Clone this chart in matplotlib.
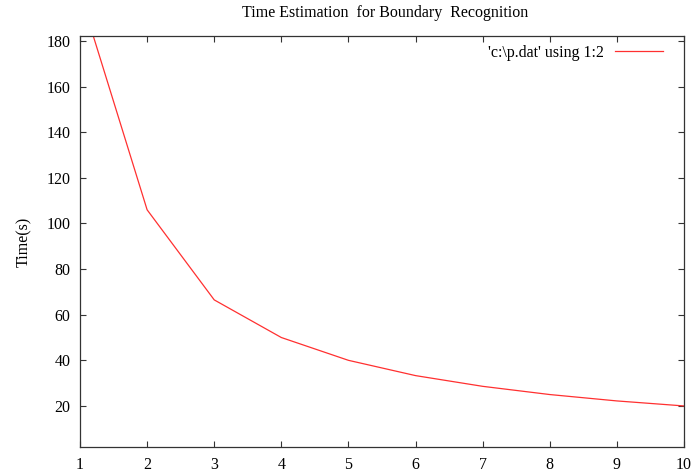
import matplotlib
matplotlib.use("Agg")
import matplotlib.pyplot as plt

# valori
x = [1, 2, 3, 4, 5, 6, 7, 8, 9, 10]
t = [201, 106, 66.5, 50, 40, 33.3, 28.6, 25, 22.2, 20]
xticks = [1, 2, 3, 4, 5, 6, 7, 8, 9, 10]
yticks = [20, 40, 60, 80, 100, 120, 140, 160, 180]

plt.rcParams['font.family'] = ['Liberation Serif', 'DejaVu Serif']
plt.rcParams['font.size'] = 11.5

fig = plt.figure(figsize=(7, 4.74), dpi=100)
ax = fig.add_axes([80 / 700, 27 / 474, 604 / 700, 411 / 474])

ax.plot(x, t, color='#ff3030', lw=0.9, label="'c:\\p.dat' using 1:2")

ax.set_xlim(1, 10)
ax.set_ylim(2, 182.2)
ax.set_xticks(xticks)
ax.set_yticks(yticks)
ax.tick_params(direction='in', top=True, right=True, length=4.5, width=0.8,
               color='#333333', labelsize=11.5, pad=7)
for s in ax.spines.values():
    s.set_color('#333333')
    s.set_linewidth(0.9)

ax.set_ylabel('Time(s)', fontsize=11.5, labelpad=10)
fig.text(385 / 700, 1 - 13 / 474, 'Time Estimation  for Boundary  Recognition',
         ha='center', va='center', fontsize=11.5)

ax.legend(loc='upper right', frameon=False, markerfirst=False, fontsize=11.5,
          handlelength=3.0, handletextpad=0.7, borderaxespad=0.4,
          bbox_to_anchor=(0.987, 1.01))

fig.savefig('out.png', dpi=100)
